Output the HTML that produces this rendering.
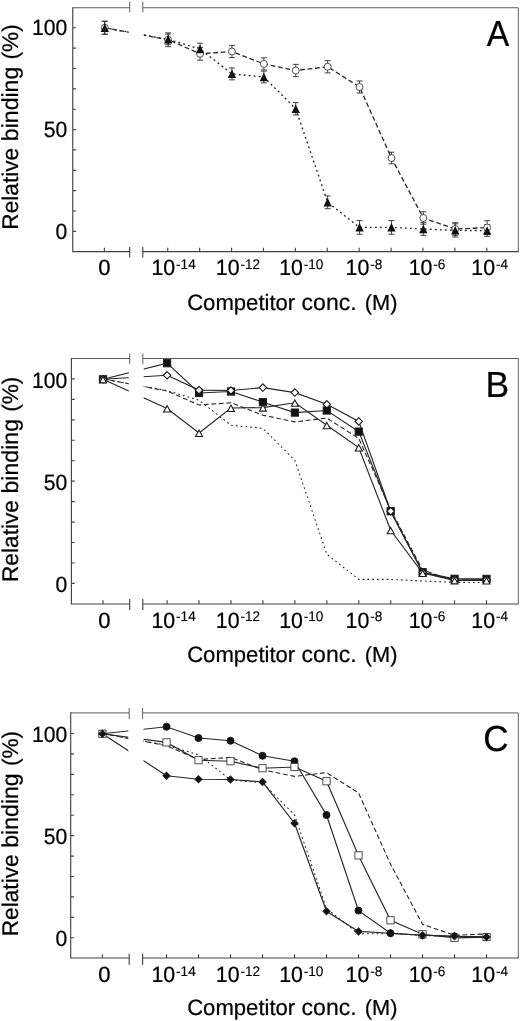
<!DOCTYPE html>
<html lang="en">
<head>
<meta charset="utf-8">
<title>Competition binding curves</title>
<style>html,body{margin:0;padding:0;background:#fff}svg{display:block;will-change:transform;filter:grayscale(1)}text{text-rendering:geometricPrecision;stroke:#000;stroke-width:0.22px;font-family:"Liberation Sans",sans-serif;fill:#000}</style>
</head>
<body>
<svg width="520" height="1021" viewBox="0 0 520 1021">
<rect width="520" height="1021" fill="#fff"/>
<g id="panelA">
<polyline points="104.8,27.75 168.15,39.8 200.05,53.75 231.95,51.5 263.85,63.9 295.75,70.5 327.65,66.75 359.55,87 391.45,158 423.35,218 455.25,229 487.15,227.6" fill="none" stroke="#262626" stroke-width="1.3" stroke-dasharray="4.8 2.7"/>
<polyline points="104.8,27.75 168.15,39.4 200.05,49 231.95,73.9 263.85,77 295.75,108.8 327.65,202.3 359.55,227.4 391.45,227.4 423.35,229 455.25,230.4 487.15,230.6" fill="none" stroke="#262626" stroke-width="1.35" stroke-dasharray="1.9 3.1"/>
<rect x="128.8" y="9.75" width="14.9" height="239.85" fill="#fff"/>
<path d="M72.75 7.75H129.7M142.8 7.75H518.3V251.6M129.7 1.65V12.45M142.8 1.65V12.45" fill="none" stroke="#5e5e5e" stroke-width="1"/>
<path d="M72.75 7.75V251.6H129.7M142.8 251.6H518.3M129.7 247.55V256.85M142.8 247.55V256.85M72.75 231.4h2.8M72.75 211.03h2.8M72.75 190.67h2.8M72.75 170.31h2.8M72.75 149.94h2.8M72.75 129.57h2.8M72.75 109.21h2.8M72.75 88.84h2.8M72.75 68.48h2.8M72.75 48.12h2.8M72.75 27.75h2.8M104.4 251.6v-3.2M167.75 251.6v-3.2M199.65 251.6v-3.2M231.55 251.6v-3.2M263.45 251.6v-3.2M295.35 251.6v-3.2M327.25 251.6v-3.2M359.15 251.6v-3.2M391.05 251.6v-3.2M422.95 251.6v-3.2M454.85 251.6v-3.2M486.75 251.6v-3.2" fill="none" stroke="#444" stroke-width="1.15" stroke-linecap="square"/>
<text transform="translate(67.2 35.45) scale(0.96 1)" text-anchor="end" font-size="22">100</text>
<text transform="translate(67.2 137.3) scale(0.96 1)" text-anchor="end" font-size="22">50</text>
<text transform="translate(67.2 239.2) scale(0.96 1)" text-anchor="end" font-size="22">0</text>
<text x="104.4" y="275.2" text-anchor="middle" font-size="22">0</text>
<text transform="translate(151.47 275.2) scale(0.97 1)" font-size="22">10<tspan font-size="14" dy="-6.1" dx="0.9" stroke-width="0.15">-14</tspan></text>
<text transform="translate(215.77 275.2) scale(0.97 1)" font-size="22">10<tspan font-size="14" dy="-6.1" dx="0.9" stroke-width="0.15">-12</tspan></text>
<text transform="translate(279.17 275.2) scale(0.97 1)" font-size="22">10<tspan font-size="14" dy="-6.1" dx="0.9" stroke-width="0.15">-10</tspan></text>
<text transform="translate(345.57 275.2) scale(0.97 1)" font-size="22">10<tspan font-size="14" dy="-6.1" dx="0.9" stroke-width="0.15">-8</tspan></text>
<text transform="translate(408.67 275.2) scale(0.97 1)" font-size="22">10<tspan font-size="14" dy="-6.1" dx="0.9" stroke-width="0.15">-6</tspan></text>
<text transform="translate(471.27 275.2) scale(0.97 1)" font-size="22">10<tspan font-size="14" dy="-6.1" dx="0.9" stroke-width="0.15">-4</tspan></text>
<text y="309.6" text-anchor="middle" font-size="22.1"><tspan x="241.2">Competitor</tspan><tspan x="329.1" font-size="23">conc.</tspan><tspan x="381.2" font-size="21.8">(M)</tspan></text>
<text transform="translate(18.2 188.75) rotate(-90)" text-anchor="middle" font-size="22.7">Relative</text>
<text transform="translate(18.2 103.95) rotate(-90)" text-anchor="middle" font-size="23.1">binding</text>
<text transform="translate(18.2 41.9) rotate(-90)" text-anchor="middle" font-size="22.6">(%)</text>
<text transform="translate(509.2 45.9) scale(0.93 1)" text-anchor="end" font-size="36.2">A</text>
<path d="M104.8 21.25V34.25M101.8 21.25H107.8M101.8 34.25H107.8" fill="none" stroke="#303030" stroke-width="0.9"/>
<path d="M168.15 32.9V46.7M165.15 32.9H171.15M165.15 46.7H171.15" fill="none" stroke="#303030" stroke-width="0.9"/>
<path d="M200.05 47.35V60.15M197.05 47.35H203.05M197.05 60.15H203.05" fill="none" stroke="#303030" stroke-width="0.9"/>
<path d="M231.95 45.45V57.55M228.95 45.45H234.95M228.95 57.55H234.95" fill="none" stroke="#303030" stroke-width="0.9"/>
<path d="M263.85 57.85V69.95M260.85 57.85H266.85M260.85 69.95H266.85" fill="none" stroke="#303030" stroke-width="0.9"/>
<path d="M295.75 64.4V76.6M292.75 64.4H298.75M292.75 76.6H298.75" fill="none" stroke="#303030" stroke-width="0.9"/>
<path d="M327.65 60.65V72.85M324.65 60.65H330.65M324.65 72.85H330.65" fill="none" stroke="#303030" stroke-width="0.9"/>
<path d="M359.55 80.95V93.05M356.55 80.95H362.55M356.55 93.05H362.55" fill="none" stroke="#303030" stroke-width="0.9"/>
<path d="M391.45 152.2V163.8M388.45 152.2H394.45M388.45 163.8H394.45" fill="none" stroke="#303030" stroke-width="0.9"/>
<path d="M423.35 211.8V224.2M420.35 211.8H426.35M420.35 224.2H426.35" fill="none" stroke="#303030" stroke-width="0.9"/>
<path d="M455.25 222.7V235.3M452.25 222.7H458.25M452.25 235.3H458.25" fill="none" stroke="#303030" stroke-width="0.9"/>
<path d="M487.15 220.7V234.5M484.15 220.7H490.15M484.15 234.5H490.15" fill="none" stroke="#303030" stroke-width="0.9"/>
<path d="M104.8 21.25V34.25M101.8 21.25H107.8M101.8 34.25H107.8" fill="none" stroke="#303030" stroke-width="0.9"/>
<path d="M168.15 34.1V44.7M165.15 34.1H171.15M165.15 44.7H171.15" fill="none" stroke="#303030" stroke-width="0.9"/>
<path d="M200.05 43.2V54.8M197.05 43.2H203.05M197.05 54.8H203.05" fill="none" stroke="#303030" stroke-width="0.9"/>
<path d="M231.95 67.95V79.85M228.95 67.95H234.95M228.95 79.85H234.95" fill="none" stroke="#303030" stroke-width="0.9"/>
<path d="M263.85 71.1V82.9M260.85 71.1H266.85M260.85 82.9H266.85" fill="none" stroke="#303030" stroke-width="0.9"/>
<path d="M295.75 102.6V115M292.75 102.6H298.75M292.75 115H298.75" fill="none" stroke="#303030" stroke-width="0.9"/>
<path d="M327.65 195.9V208.7M324.65 195.9H330.65M324.65 208.7H330.65" fill="none" stroke="#303030" stroke-width="0.9"/>
<path d="M359.55 220.6V234.2M356.55 220.6H362.55M356.55 234.2H362.55" fill="none" stroke="#303030" stroke-width="0.9"/>
<path d="M391.45 220.6V234.2M388.45 220.6H394.45M388.45 234.2H394.45" fill="none" stroke="#303030" stroke-width="0.9"/>
<path d="M423.35 222.6V235.4M420.35 222.6H426.35M420.35 235.4H426.35" fill="none" stroke="#303030" stroke-width="0.9"/>
<path d="M455.25 223.8V237M452.25 223.8H458.25M452.25 237H458.25" fill="none" stroke="#303030" stroke-width="0.9"/>
<path d="M487.15 224.8V236.4M484.15 224.8H490.15M484.15 236.4H490.15" fill="none" stroke="#303030" stroke-width="0.9"/>
<circle cx="104.8" cy="27.75" r="3.5" fill="#fff" stroke="#333" stroke-width="0.85"/>
<circle cx="168.15" cy="39.8" r="3.5" fill="#fff" stroke="#333" stroke-width="0.85"/>
<circle cx="200.05" cy="53.75" r="3.5" fill="#fff" stroke="#333" stroke-width="0.85"/>
<circle cx="231.95" cy="51.5" r="3.5" fill="#fff" stroke="#333" stroke-width="0.85"/>
<circle cx="263.85" cy="63.9" r="3.5" fill="#fff" stroke="#333" stroke-width="0.85"/>
<circle cx="295.75" cy="70.5" r="3.5" fill="#fff" stroke="#333" stroke-width="0.85"/>
<circle cx="327.65" cy="66.75" r="3.5" fill="#fff" stroke="#333" stroke-width="0.85"/>
<circle cx="359.55" cy="87" r="3.5" fill="#fff" stroke="#333" stroke-width="0.85"/>
<circle cx="391.45" cy="158" r="3.5" fill="#fff" stroke="#333" stroke-width="0.85"/>
<circle cx="423.35" cy="218" r="3.5" fill="#fff" stroke="#333" stroke-width="0.85"/>
<circle cx="455.25" cy="229" r="3.5" fill="#fff" stroke="#333" stroke-width="0.85"/>
<circle cx="487.15" cy="227.6" r="3.5" fill="#fff" stroke="#333" stroke-width="0.85"/>
<path d="M104.8 23.45L108.95 31.95L100.65 31.95Z" fill="#111"/>
<path d="M168.15 35.1L172.3 43.6L164 43.6Z" fill="#111"/>
<path d="M200.05 44.7L204.2 53.2L195.9 53.2Z" fill="#111"/>
<path d="M231.95 69.6L236.1 78.1L227.8 78.1Z" fill="#111"/>
<path d="M263.85 72.7L268 81.2L259.7 81.2Z" fill="#111"/>
<path d="M295.75 104.5L299.9 113L291.6 113Z" fill="#111"/>
<path d="M327.65 198L331.8 206.5L323.5 206.5Z" fill="#111"/>
<path d="M359.55 223.1L363.7 231.6L355.4 231.6Z" fill="#111"/>
<path d="M391.45 223.1L395.6 231.6L387.3 231.6Z" fill="#111"/>
<path d="M423.35 224.7L427.5 233.2L419.2 233.2Z" fill="#111"/>
<path d="M455.25 226.1L459.4 234.6L451.1 234.6Z" fill="#111"/>
<path d="M487.15 226.3L491.3 234.8L483 234.8Z" fill="#111"/>
</g>
<g id="panelB">
<polyline points="103,378.9 167.1,391 199.04,405.01 230.98,402.75 262.92,415.2 294.86,421.83 326.8,418.06 358.74,438.4 390.68,509.69 422.62,569.94 454.56,580.99 486.5,579.58" fill="none" stroke="#262626" stroke-width="1.1" stroke-dasharray="4.8 2.7"/>
<polyline points="103,378.9 167.1,390.6 199.04,400.24 230.98,425.24 262.92,428.36 294.86,460.29 326.8,554.18 358.74,579.38 390.68,579.38 422.62,580.99 454.56,582.4 486.5,582.6" fill="none" stroke="#262626" stroke-width="1.05" stroke-dasharray="1.8 3.0"/>
<polyline points="103,379.3 167.1,408.5 199.04,433 230.98,408 262.92,407.6 294.86,402.8 326.8,425.3 358.74,447.5 390.68,530.3 422.62,573 454.56,580.4 486.5,580.5" fill="none" stroke="#262626" stroke-width="1.15"/>
<polyline points="103,379.3 167.1,363.2 199.04,393 230.98,391.5 262.92,402.2 294.86,412.6 326.8,410.5 358.74,431.6 390.68,511.2 422.62,572.2 454.56,578.8 486.5,578.9" fill="none" stroke="#262626" stroke-width="1.15"/>
<polyline points="103,379.3 167.1,375.3 199.04,390.1 230.98,390.5 262.92,387.6 294.86,392.6 326.8,404.3 358.74,421.4 390.68,511.2 422.62,572.6 454.56,579.6 486.5,579.7" fill="none" stroke="#262626" stroke-width="1.15"/>
<rect x="128.8" y="360.5" width="14.9" height="241.5" fill="#fff"/>
<path d="M71.4 358.5H129.7M142.8 358.5H518.3V604M129.7 353.5V364.2M142.8 353.5V364.2" fill="none" stroke="#5e5e5e" stroke-width="1"/>
<path d="M71.4 358.5V604H129.7M142.8 604H518.3M129.7 599.55V609.45M142.8 599.55V609.45M71.4 583.4h2.8M71.4 562.95h2.8M71.4 542.5h2.8M71.4 522.05h2.8M71.4 501.6h2.8M71.4 481.15h2.8M71.4 460.7h2.8M71.4 440.25h2.8M71.4 419.8h2.8M71.4 399.35h2.8M71.4 378.9h2.8M103 604v-3.2M167.1 604v-3.2M199.04 604v-3.2M230.98 604v-3.2M262.92 604v-3.2M294.86 604v-3.2M326.8 604v-3.2M358.74 604v-3.2M390.68 604v-3.2M422.62 604v-3.2M454.56 604v-3.2M486.5 604v-3.2" fill="none" stroke="#444" stroke-width="1.15" stroke-linecap="square"/>
<text transform="translate(67.2 387.75) scale(0.96 1)" text-anchor="end" font-size="22">100</text>
<text transform="translate(67.2 489.6) scale(0.96 1)" text-anchor="end" font-size="22">50</text>
<text transform="translate(67.2 591.5) scale(0.96 1)" text-anchor="end" font-size="22">0</text>
<text x="104.4" y="627.5" text-anchor="middle" font-size="22">0</text>
<text transform="translate(151.47 627.5) scale(0.97 1)" font-size="22">10<tspan font-size="14" dy="-6.1" dx="0.9" stroke-width="0.15">-14</tspan></text>
<text transform="translate(215.77 627.5) scale(0.97 1)" font-size="22">10<tspan font-size="14" dy="-6.1" dx="0.9" stroke-width="0.15">-12</tspan></text>
<text transform="translate(279.17 627.5) scale(0.97 1)" font-size="22">10<tspan font-size="14" dy="-6.1" dx="0.9" stroke-width="0.15">-10</tspan></text>
<text transform="translate(345.57 627.5) scale(0.97 1)" font-size="22">10<tspan font-size="14" dy="-6.1" dx="0.9" stroke-width="0.15">-8</tspan></text>
<text transform="translate(408.67 627.5) scale(0.97 1)" font-size="22">10<tspan font-size="14" dy="-6.1" dx="0.9" stroke-width="0.15">-6</tspan></text>
<text transform="translate(471.27 627.5) scale(0.97 1)" font-size="22">10<tspan font-size="14" dy="-6.1" dx="0.9" stroke-width="0.15">-4</tspan></text>
<text y="661.9" text-anchor="middle" font-size="22.1"><tspan x="241.2">Competitor</tspan><tspan x="329.1" font-size="23">conc.</tspan><tspan x="381.2" font-size="21.8">(M)</tspan></text>
<text transform="translate(18.2 541.05) rotate(-90)" text-anchor="middle" font-size="22.7">Relative</text>
<text transform="translate(18.2 456.25) rotate(-90)" text-anchor="middle" font-size="23.1">binding</text>
<text transform="translate(18.2 394.2) rotate(-90)" text-anchor="middle" font-size="22.6">(%)</text>
<text transform="translate(509.2 397.3) scale(0.98 1)" text-anchor="end" font-size="36.2">B</text>
<rect x="99.4" y="375.7" width="7.2" height="7.2" fill="#111" stroke="#1a1a1a" stroke-width="1"/>
<rect x="163.5" y="359.6" width="7.2" height="7.2" fill="#111" stroke="#1a1a1a" stroke-width="1"/>
<rect x="195.44" y="389.4" width="7.2" height="7.2" fill="#111" stroke="#1a1a1a" stroke-width="1"/>
<rect x="227.38" y="387.9" width="7.2" height="7.2" fill="#111" stroke="#1a1a1a" stroke-width="1"/>
<rect x="259.32" y="398.6" width="7.2" height="7.2" fill="#111" stroke="#1a1a1a" stroke-width="1"/>
<rect x="291.26" y="409" width="7.2" height="7.2" fill="#111" stroke="#1a1a1a" stroke-width="1"/>
<rect x="323.2" y="406.9" width="7.2" height="7.2" fill="#111" stroke="#1a1a1a" stroke-width="1"/>
<rect x="355.14" y="428" width="7.2" height="7.2" fill="#111" stroke="#1a1a1a" stroke-width="1"/>
<rect x="387.08" y="507.6" width="7.2" height="7.2" fill="#111" stroke="#1a1a1a" stroke-width="1"/>
<rect x="419.02" y="568.6" width="7.2" height="7.2" fill="#111" stroke="#1a1a1a" stroke-width="1"/>
<rect x="450.96" y="575.2" width="7.2" height="7.2" fill="#111" stroke="#1a1a1a" stroke-width="1"/>
<rect x="482.9" y="575.3" width="7.2" height="7.2" fill="#111" stroke="#1a1a1a" stroke-width="1"/>
<path d="M103 375.6L106.7 379.3L103 383L99.3 379.3Z" fill="#fff" stroke="#1a1a1a" stroke-width="1.1"/>
<path d="M167.1 371.6L170.8 375.3L167.1 379L163.4 375.3Z" fill="#fff" stroke="#1a1a1a" stroke-width="1.1"/>
<path d="M199.04 386.4L202.74 390.1L199.04 393.8L195.34 390.1Z" fill="#fff" stroke="#1a1a1a" stroke-width="1.1"/>
<path d="M230.98 386.8L234.68 390.5L230.98 394.2L227.28 390.5Z" fill="#fff" stroke="#1a1a1a" stroke-width="1.1"/>
<path d="M262.92 383.9L266.62 387.6L262.92 391.3L259.22 387.6Z" fill="#fff" stroke="#1a1a1a" stroke-width="1.1"/>
<path d="M294.86 388.9L298.56 392.6L294.86 396.3L291.16 392.6Z" fill="#fff" stroke="#1a1a1a" stroke-width="1.1"/>
<path d="M326.8 400.6L330.5 404.3L326.8 408L323.1 404.3Z" fill="#fff" stroke="#1a1a1a" stroke-width="1.1"/>
<path d="M358.74 417.7L362.44 421.4L358.74 425.1L355.04 421.4Z" fill="#fff" stroke="#1a1a1a" stroke-width="1.1"/>
<path d="M390.68 507.5L394.38 511.2L390.68 514.9L386.98 511.2Z" fill="#fff" stroke="#1a1a1a" stroke-width="1.1"/>
<path d="M422.62 568.9L426.32 572.6L422.62 576.3L418.92 572.6Z" fill="#fff" stroke="#1a1a1a" stroke-width="1.1"/>
<path d="M454.56 575.9L458.26 579.6L454.56 583.3L450.86 579.6Z" fill="#fff" stroke="#1a1a1a" stroke-width="1.1"/>
<path d="M486.5 576L490.2 579.7L486.5 583.4L482.8 579.7Z" fill="#fff" stroke="#1a1a1a" stroke-width="1.1"/>
<path d="M103 376.4L106.5 382.8L99.5 382.8Z" fill="#fff" stroke="#1a1a1a" stroke-width="1.1"/>
<path d="M167.1 405.6L170.6 412L163.6 412Z" fill="#fff" stroke="#1a1a1a" stroke-width="1.1"/>
<path d="M199.04 430.1L202.54 436.5L195.54 436.5Z" fill="#fff" stroke="#1a1a1a" stroke-width="1.1"/>
<path d="M230.98 405.1L234.48 411.5L227.48 411.5Z" fill="#fff" stroke="#1a1a1a" stroke-width="1.1"/>
<path d="M262.92 404.7L266.42 411.1L259.42 411.1Z" fill="#fff" stroke="#1a1a1a" stroke-width="1.1"/>
<path d="M294.86 399.9L298.36 406.3L291.36 406.3Z" fill="#fff" stroke="#1a1a1a" stroke-width="1.1"/>
<path d="M326.8 422.4L330.3 428.8L323.3 428.8Z" fill="#fff" stroke="#1a1a1a" stroke-width="1.1"/>
<path d="M358.74 444.6L362.24 451L355.24 451Z" fill="#fff" stroke="#1a1a1a" stroke-width="1.1"/>
<path d="M390.68 527.4L394.18 533.8L387.18 533.8Z" fill="#fff" stroke="#1a1a1a" stroke-width="1.1"/>
<path d="M422.62 570.1L426.12 576.5L419.12 576.5Z" fill="#fff" stroke="#1a1a1a" stroke-width="1.1"/>
<path d="M454.56 577.5L458.06 583.9L451.06 583.9Z" fill="#fff" stroke="#1a1a1a" stroke-width="1.1"/>
<path d="M486.5 577.6L490 584L483 584Z" fill="#fff" stroke="#1a1a1a" stroke-width="1.1"/>
</g>
<g id="panelC">
<polyline points="102.4,733.5 166.5,745.59 198.5,759.58 230.5,757.32 262.5,769.76 294.5,776.38 326.5,772.61 358.5,792.92 390.5,864.13 422.5,924.31 454.5,935.34 486.5,933.94" fill="none" stroke="#262626" stroke-width="1.1" stroke-dasharray="4.8 2.7"/>
<polyline points="102.4,733.5 166.5,745.18 198.5,754.81 230.5,779.79 262.5,782.9 294.5,814.79 326.5,908.56 358.5,933.74 390.5,933.74 422.5,935.34 454.5,936.75 486.5,936.95" fill="none" stroke="#262626" stroke-width="1.05" stroke-dasharray="1.8 3.0"/>
<polyline points="102.4,733.75 166.5,742.4 198.5,760.2 230.5,761.25 262.5,768.25 294.5,767 326.5,781.25 358.5,855.4 390.5,920.3 422.5,934.3 454.5,937.8 486.5,937.1" fill="none" stroke="#262626" stroke-width="1.15"/>
<polyline points="102.4,733.75 166.5,726.75 198.5,738 230.5,740.75 262.5,755.75 294.5,761.25 326.5,815 358.5,910.6 390.5,933.2 422.5,935.3 454.5,936.3 486.5,937.1" fill="none" stroke="#262626" stroke-width="1.15"/>
<polyline points="102.4,733.75 166.5,775.75 198.5,779.25 230.5,779.5 262.5,781.9 294.5,823.25 326.5,911.25 358.5,931.4 390.5,933.2 422.5,935.3 454.5,936.3 486.5,937.1" fill="none" stroke="#262626" stroke-width="1.15"/>
<rect x="128.3" y="714.9" width="15.2" height="241.1" fill="#fff"/>
<path d="M70.7 712.9H129.2M142.6 712.9H518.3V958M129.2 708V719.2M142.6 708V719.2" fill="none" stroke="#5e5e5e" stroke-width="1"/>
<path d="M70.7 712.9V958H129.2M142.6 958H518.3M129.2 954.25V964.05M142.6 954.25V964.05M70.7 937.75h2.8M70.7 917.33h2.8M70.7 896.9h2.8M70.7 876.48h2.8M70.7 856.05h2.8M70.7 835.62h2.8M70.7 815.2h2.8M70.7 794.77h2.8M70.7 774.35h2.8M70.7 753.92h2.8M70.7 733.5h2.8M102.4 958v-3.2M166.5 958v-3.2M198.5 958v-3.2M230.5 958v-3.2M262.5 958v-3.2M294.5 958v-3.2M326.5 958v-3.2M358.5 958v-3.2M390.5 958v-3.2M422.5 958v-3.2M454.5 958v-3.2M486.5 958v-3.2" fill="none" stroke="#444" stroke-width="1.15" stroke-linecap="square"/>
<text transform="translate(67.2 742.05) scale(0.96 1)" text-anchor="end" font-size="22">100</text>
<text transform="translate(67.2 843.9) scale(0.96 1)" text-anchor="end" font-size="22">50</text>
<text transform="translate(67.2 945.8) scale(0.96 1)" text-anchor="end" font-size="22">0</text>
<text x="104.4" y="981.8" text-anchor="middle" font-size="22">0</text>
<text transform="translate(151.47 981.8) scale(0.97 1)" font-size="22">10<tspan font-size="14" dy="-6.1" dx="0.9" stroke-width="0.15">-14</tspan></text>
<text transform="translate(215.77 981.8) scale(0.97 1)" font-size="22">10<tspan font-size="14" dy="-6.1" dx="0.9" stroke-width="0.15">-12</tspan></text>
<text transform="translate(279.17 981.8) scale(0.97 1)" font-size="22">10<tspan font-size="14" dy="-6.1" dx="0.9" stroke-width="0.15">-10</tspan></text>
<text transform="translate(345.57 981.8) scale(0.97 1)" font-size="22">10<tspan font-size="14" dy="-6.1" dx="0.9" stroke-width="0.15">-8</tspan></text>
<text transform="translate(408.67 981.8) scale(0.97 1)" font-size="22">10<tspan font-size="14" dy="-6.1" dx="0.9" stroke-width="0.15">-6</tspan></text>
<text transform="translate(471.27 981.8) scale(0.97 1)" font-size="22">10<tspan font-size="14" dy="-6.1" dx="0.9" stroke-width="0.15">-4</tspan></text>
<text y="1015.1" text-anchor="middle" font-size="22.1"><tspan x="241.2">Competitor</tspan><tspan x="329.1" font-size="23">conc.</tspan><tspan x="381.2" font-size="21.8">(M)</tspan></text>
<text transform="translate(18.2 895.35) rotate(-90)" text-anchor="middle" font-size="22.7">Relative</text>
<text transform="translate(18.2 810.55) rotate(-90)" text-anchor="middle" font-size="23.1">binding</text>
<text transform="translate(18.2 748.5) rotate(-90)" text-anchor="middle" font-size="22.6">(%)</text>
<text transform="translate(508.7 751.1) scale(0.97 1)" text-anchor="end" font-size="36.2">C</text>
<circle cx="102.4" cy="733.75" r="3.5" fill="#111" stroke="#1a1a1a" stroke-width="1"/>
<circle cx="166.5" cy="726.75" r="3.5" fill="#111" stroke="#1a1a1a" stroke-width="1"/>
<circle cx="198.5" cy="738" r="3.5" fill="#111" stroke="#1a1a1a" stroke-width="1"/>
<circle cx="230.5" cy="740.75" r="3.5" fill="#111" stroke="#1a1a1a" stroke-width="1"/>
<circle cx="262.5" cy="755.75" r="3.5" fill="#111" stroke="#1a1a1a" stroke-width="1"/>
<circle cx="294.5" cy="761.25" r="3.5" fill="#111" stroke="#1a1a1a" stroke-width="1"/>
<circle cx="326.5" cy="815" r="3.5" fill="#111" stroke="#1a1a1a" stroke-width="1"/>
<circle cx="358.5" cy="910.6" r="3.5" fill="#111" stroke="#1a1a1a" stroke-width="1"/>
<circle cx="390.5" cy="933.2" r="3.5" fill="#111" stroke="#1a1a1a" stroke-width="1"/>
<circle cx="422.5" cy="935.3" r="3.5" fill="#111" stroke="#1a1a1a" stroke-width="1"/>
<circle cx="454.5" cy="936.3" r="3.5" fill="#111" stroke="#1a1a1a" stroke-width="1"/>
<circle cx="486.5" cy="937.1" r="3.5" fill="#111" stroke="#1a1a1a" stroke-width="1"/>
<rect x="98.8" y="730.15" width="7.2" height="7.2" fill="#fff" stroke="#3c3c3c" stroke-width="0.9"/>
<rect x="162.9" y="738.8" width="7.2" height="7.2" fill="#fff" stroke="#3c3c3c" stroke-width="0.9"/>
<rect x="194.9" y="756.6" width="7.2" height="7.2" fill="#fff" stroke="#3c3c3c" stroke-width="0.9"/>
<rect x="226.9" y="757.65" width="7.2" height="7.2" fill="#fff" stroke="#3c3c3c" stroke-width="0.9"/>
<rect x="258.9" y="764.65" width="7.2" height="7.2" fill="#fff" stroke="#3c3c3c" stroke-width="0.9"/>
<rect x="290.9" y="763.4" width="7.2" height="7.2" fill="#fff" stroke="#3c3c3c" stroke-width="0.9"/>
<rect x="322.9" y="777.65" width="7.2" height="7.2" fill="#fff" stroke="#3c3c3c" stroke-width="0.9"/>
<rect x="354.9" y="851.8" width="7.2" height="7.2" fill="#fff" stroke="#3c3c3c" stroke-width="0.9"/>
<rect x="386.9" y="916.7" width="7.2" height="7.2" fill="#fff" stroke="#3c3c3c" stroke-width="0.9"/>
<rect x="418.9" y="930.7" width="7.2" height="7.2" fill="#fff" stroke="#3c3c3c" stroke-width="0.9"/>
<rect x="450.9" y="934.2" width="7.2" height="7.2" fill="#fff" stroke="#3c3c3c" stroke-width="0.9"/>
<rect x="482.9" y="933.5" width="7.2" height="7.2" fill="#fff" stroke="#3c3c3c" stroke-width="0.9"/>
<path d="M102.4 730.3L105.85 733.75L102.4 737.2L98.95 733.75Z" fill="#111" stroke="#1a1a1a" stroke-width="1.1"/>
<path d="M166.5 772.3L169.95 775.75L166.5 779.2L163.05 775.75Z" fill="#111" stroke="#1a1a1a" stroke-width="1.1"/>
<path d="M198.5 775.8L201.95 779.25L198.5 782.7L195.05 779.25Z" fill="#111" stroke="#1a1a1a" stroke-width="1.1"/>
<path d="M230.5 776.05L233.95 779.5L230.5 782.95L227.05 779.5Z" fill="#111" stroke="#1a1a1a" stroke-width="1.1"/>
<path d="M262.5 778.45L265.95 781.9L262.5 785.35L259.05 781.9Z" fill="#111" stroke="#1a1a1a" stroke-width="1.1"/>
<path d="M294.5 819.8L297.95 823.25L294.5 826.7L291.05 823.25Z" fill="#111" stroke="#1a1a1a" stroke-width="1.1"/>
<path d="M326.5 907.8L329.95 911.25L326.5 914.7L323.05 911.25Z" fill="#111" stroke="#1a1a1a" stroke-width="1.1"/>
<path d="M358.5 927.95L361.95 931.4L358.5 934.85L355.05 931.4Z" fill="#111" stroke="#1a1a1a" stroke-width="1.1"/>
<path d="M390.5 929.75L393.95 933.2L390.5 936.65L387.05 933.2Z" fill="#111" stroke="#1a1a1a" stroke-width="1.1"/>
<path d="M422.5 931.85L425.95 935.3L422.5 938.75L419.05 935.3Z" fill="#111" stroke="#1a1a1a" stroke-width="1.1"/>
<path d="M454.5 932.85L457.95 936.3L454.5 939.75L451.05 936.3Z" fill="#111" stroke="#1a1a1a" stroke-width="1.1"/>
<path d="M486.5 933.65L489.95 937.1L486.5 940.55L483.05 937.1Z" fill="#111" stroke="#1a1a1a" stroke-width="1.1"/>
</g>
</svg>
</body>
</html>
